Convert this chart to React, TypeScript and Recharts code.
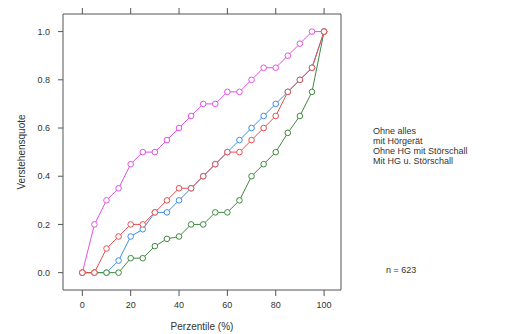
import { ComposedChart, Line, XAxis, YAxis } from "recharts";

const percentiles = [0, 5, 10, 15, 20, 25, 30, 35, 40, 45, 50, 55, 60, 65, 70, 75, 80, 85, 90, 95, 100];
const ohneAlles = [0, 0, 0, 0.05, 0.15, 0.18, 0.25, 0.25, 0.3, 0.35, 0.4, 0.45, 0.5, 0.55, 0.6, 0.65, 0.7, 0.75, 0.8, 0.85, 1.0];
const mitHoergeraet = [0, 0.2, 0.3, 0.35, 0.45, 0.5, 0.5, 0.55, 0.6, 0.65, 0.7, 0.7, 0.75, 0.75, 0.8, 0.85, 0.85, 0.9, 0.95, 1.0, 1.0];
const ohneHgStoerschall = [0, 0, 0, 0, 0.06, 0.06, 0.11, 0.14, 0.15, 0.2, 0.2, 0.25, 0.25, 0.3, 0.4, 0.45, 0.5, 0.58, 0.65, 0.75, 1.0];
const mitHgStoerschall = [0, 0, 0.1, 0.15, 0.2, 0.2, 0.25, 0.3, 0.35, 0.35, 0.4, 0.45, 0.5, 0.5, 0.55, 0.6, 0.65, 0.75, 0.8, 0.85, 1.0];

const xTicks = [0, 20, 40, 60, 80, 100];
const yTicks = [0, 0.2, 0.4, 0.6, 0.8, 1.0];
const legendLabels = ["Ohne alles", "mit Hörgerät", "Ohne HG mit Störschall", "Mit HG u. Störschall"];
const sampleNote = "n = 623";

const series = [
  { key: "ohneAlles", color: "#3d8ee8" },
  { key: "mitHoergeraet", color: "#e052e0" },
  { key: "ohneHgStoerschall", color: "#3f8a3f" },
  { key: "mitHgStoerschall", color: "#e65050" },
];

const data = percentiles.map((p, i) => ({
  p,
  ohneAlles: ohneAlles[i],
  mitHoergeraet: mitHoergeraet[i],
  ohneHgStoerschall: ohneHgStoerschall[i],
  mitHgStoerschall: mitHgStoerschall[i],
}));

const font = "'Liberation Sans', Arial, sans-serif";
const axisColor = "#555";
const tickStyle = { fill: "#333", fontSize: 9, fontFamily: font };
const blank = () => "";

export default function App() {
  return (
    <div style={{ position: "absolute", left: 0, top: 0, width: 530, height: 334, background: "#fff", fontFamily: font }}>
      <ComposedChart width={530} height={334} data={data} margin={{ top: 0, right: 0, bottom: 0, left: 0 }}>
        <XAxis
          xAxisId="bottom"
          dataKey="p"
          type="number"
          domain={[-8, 107]}
          ticks={xTicks}
          height={44}
          tickSize={6}
          tickMargin={6}
          stroke={axisColor}
          tick={tickStyle}
          label={{ value: "Perzentile (%)", position: "insideBottom", offset: 4, fill: "#333", fontSize: 10, fontFamily: font }}
        />
        <XAxis
          xAxisId="top"
          orientation="top"
          dataKey="p"
          type="number"
          domain={[-8, 107]}
          ticks={xTicks}
          height={14}
          tickSize={6}
          tickFormatter={blank}
          stroke={axisColor}
        />
        <YAxis
          yAxisId="left"
          type="number"
          domain={[-0.072, 1.073]}
          ticks={yTicks}
          width={63}
          tickSize={5}
          tickMargin={8}
          stroke={axisColor}
          tick={tickStyle}
          tickFormatter={(v: number) => v.toFixed(1)}
          label={{ value: "Verstehensquote", angle: -90, position: "insideLeft", offset: 21, fill: "#333", fontSize: 10, fontFamily: font, style: { textAnchor: "middle" } }}
        />
        <YAxis
          yAxisId="right"
          orientation="right"
          type="number"
          domain={[-0.072, 1.073]}
          ticks={yTicks}
          width={189}
          tickSize={6}
          tickFormatter={blank}
          stroke={axisColor}
        />
        {series.map((s) => (
          <Line
            key={s.key}
            xAxisId="bottom"
            yAxisId="left"
            dataKey={s.key}
            type="linear"
            stroke={s.color}
            strokeWidth={1}
            dot={{ r: 2.8, stroke: s.color, strokeWidth: 1, fill: "#fff" }}
            activeDot={false}
            isAnimationActive={false}
          />
        ))}
      </ComposedChart>
      <div style={{ position: "absolute", left: 373, top: 126, fontSize: 9, lineHeight: "10px", color: "#333" }}>
        {legendLabels.map((l) => (
          <div key={l}>{l}</div>
        ))}
      </div>
      <div style={{ position: "absolute", left: 386, top: 265, fontSize: 9, color: "#333" }}>{sampleNote}</div>
    </div>
  );
}
